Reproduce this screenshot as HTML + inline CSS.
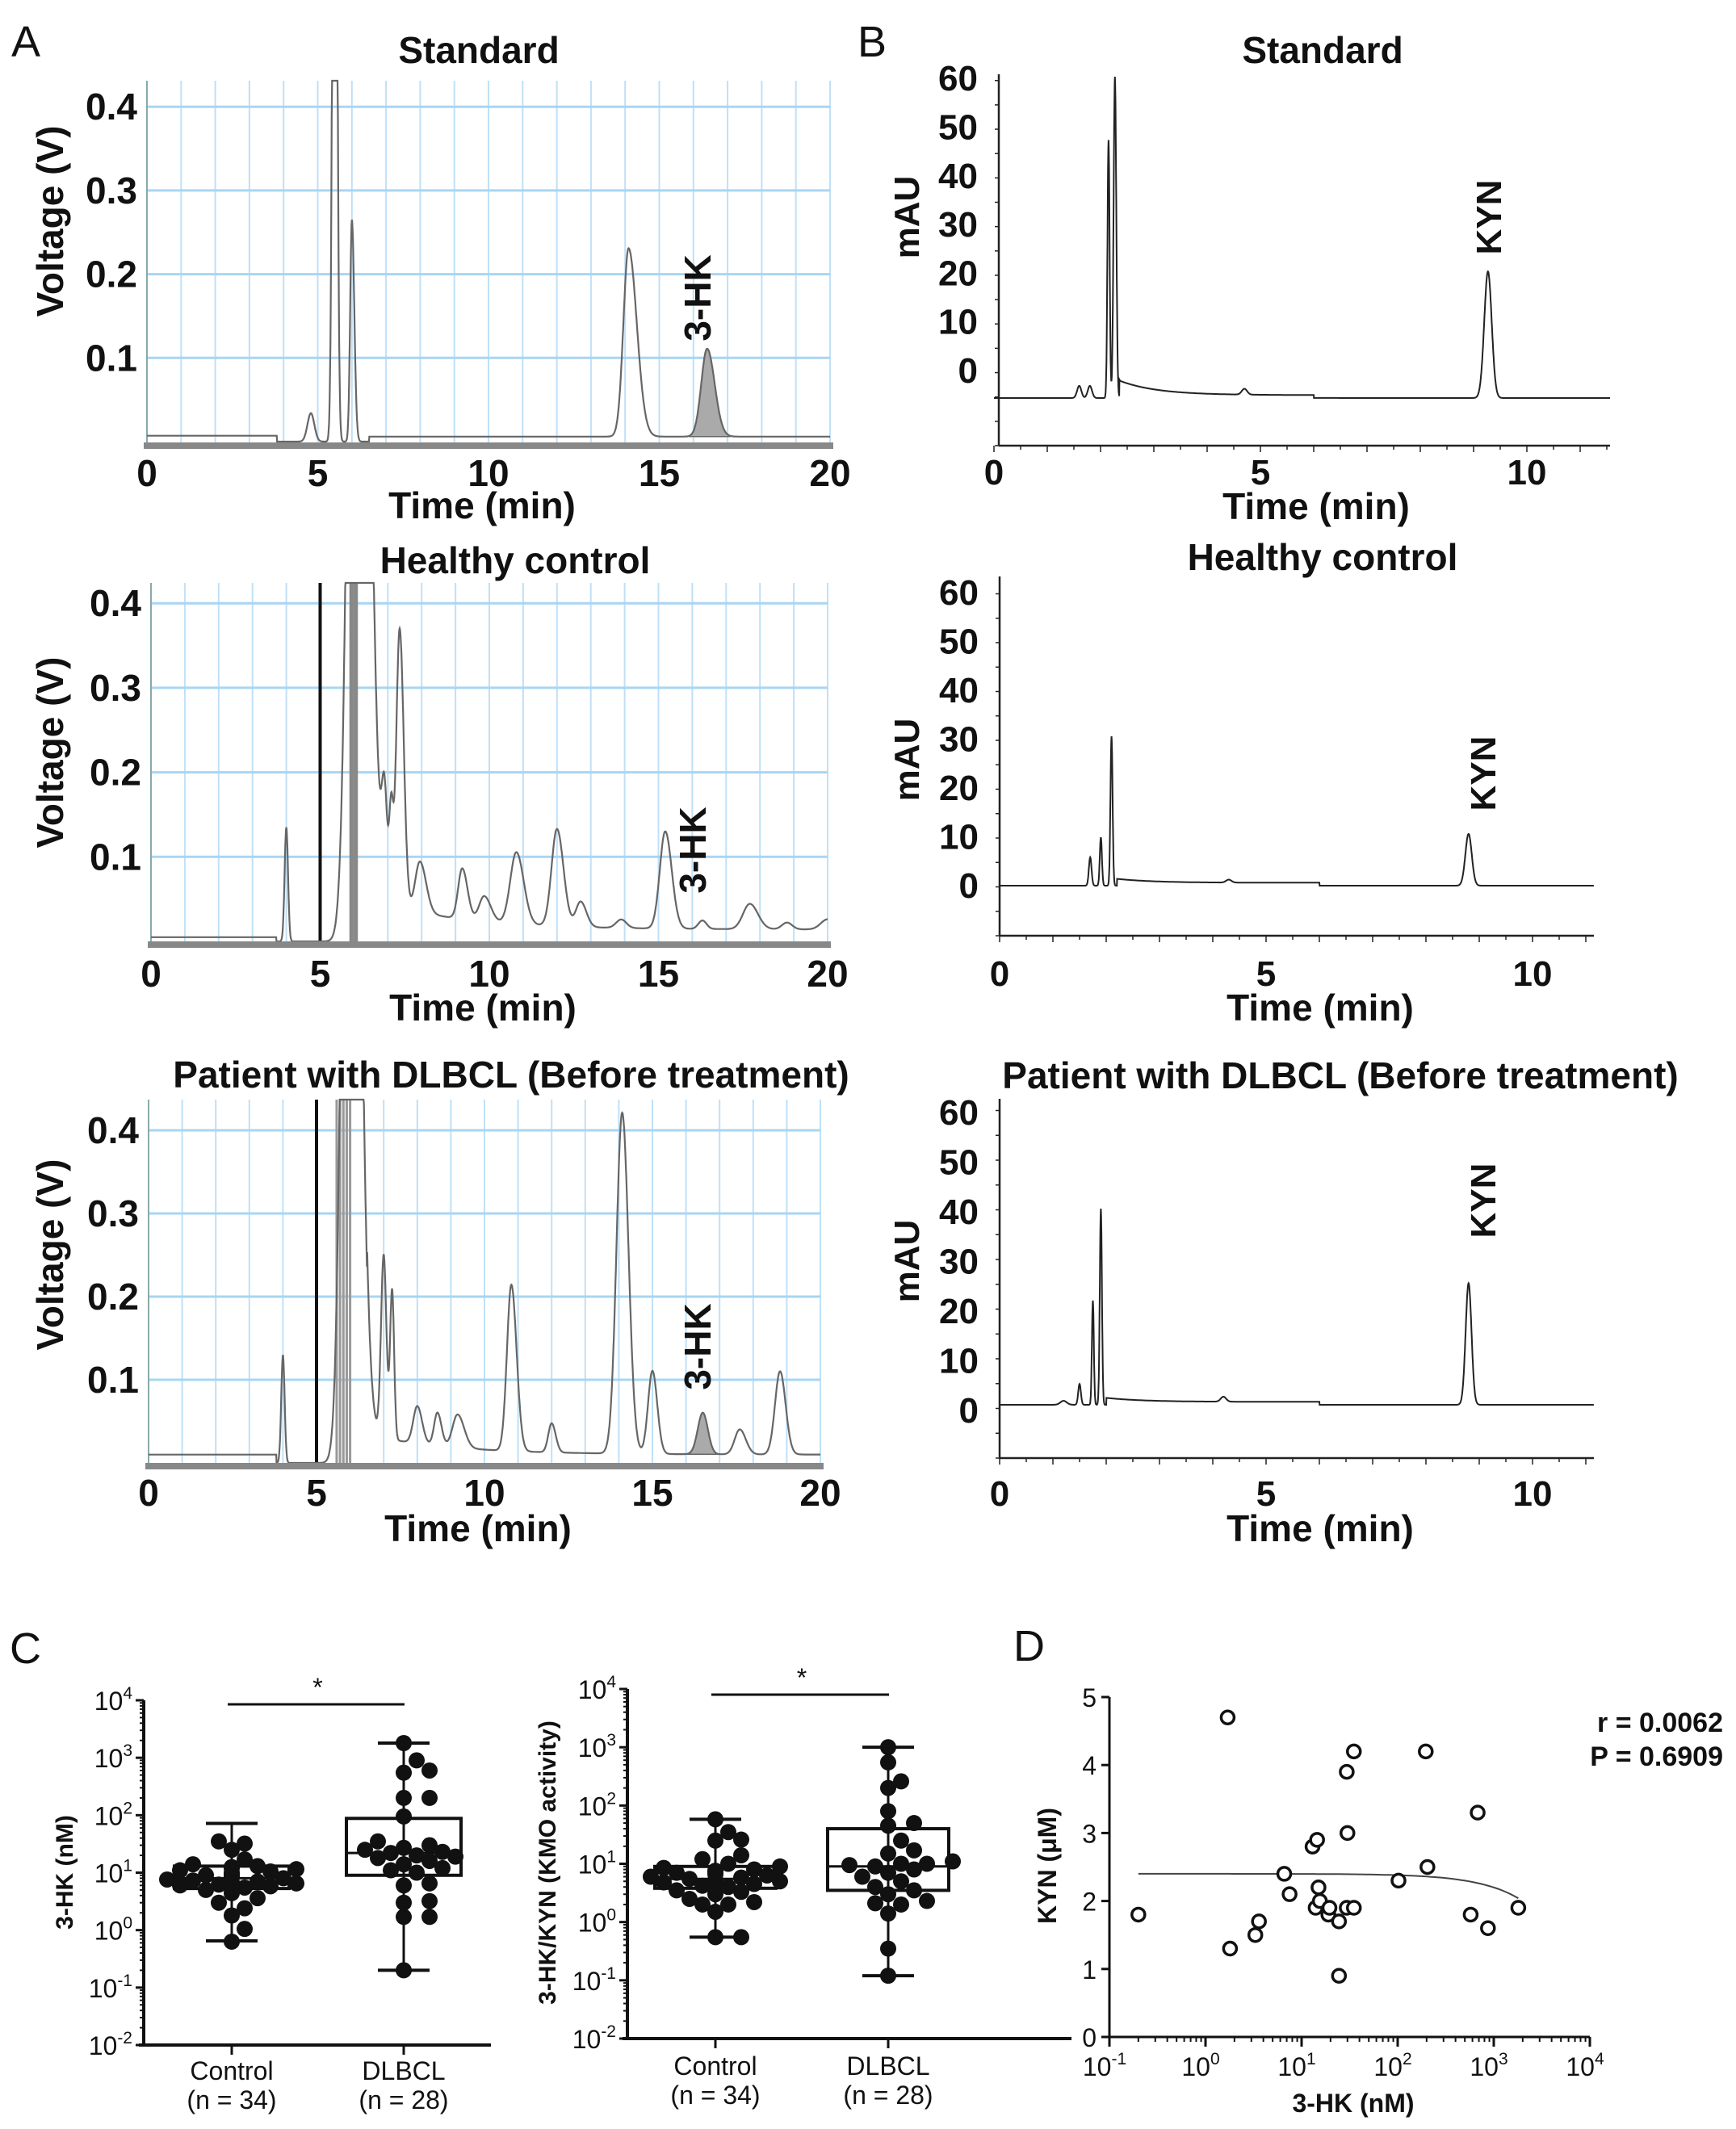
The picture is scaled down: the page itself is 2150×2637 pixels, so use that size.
<!DOCTYPE html>
<html><head><meta charset="utf-8"><title>HPLC chromatograms and 3-HK analysis</title>
<style>
html,body{margin:0;padding:0;background:#fff;}
svg{display:block;font-family:"Liberation Sans",Arial,sans-serif;}
</style></head>
<body>
<svg id="fig" width="2150" height="2637" viewBox="0 0 2150 2637" xmlns="http://www.w3.org/2000/svg">
<rect width="2150" height="2637" fill="#fff"/>
<g font-size="54" fill="#111">
<text x="14" y="70">A</text>
<text x="1062" y="70">B</text>
<text x="12" y="2060">C</text>
<text x="1255" y="2057">D</text>
</g>
<g id="layer"></g>
</svg>
<script>
// ---------- Panel A data (time min, height V, sigma min, tail factor) ----------
const a1Times=[4.8,5.5,6.0,14.1,16.4];
const a1Heights=[0.034,1.2,0.265,0.225,0.105];
const a1Widths=[0.1,0.06,0.05,0.15,0.17];
const a1Tails=[1,1,1.4,1.6,1.3];
const a1Filled=[4];
const a1Markers=[];
const a1MarkerColors=[];

const a2Times=[4.0,6.1,6.9,7.1,7.35,7.95,9.2,9.85,10.8,12.0,12.7,13.9,15.2,16.3,17.7,18.8,20.0];
const a2Heights=[0.135,1.6,0.12,0.11,0.33,0.06,0.06,0.03,0.085,0.115,0.03,0.01,0.115,0.01,0.03,0.008,0.012];
const a2Widths=[0.05,0.22,0.08,0.06,0.1,0.14,0.12,0.15,0.18,0.16,0.14,0.15,0.16,0.12,0.2,0.15,0.2];
const a2Tails=[1,1.3,1,1,1.2,1.3,1.3,1.3,1.2,1.2,1.2,1,1.2,1,1.2,1,1];
const a2Filled=[];
const a2Markers=[5.0,5.9,5.95,6.02,6.08];
const a2MarkerColors=["#111","#888","#888","#888","#888"];

const a3Times=[4.0,6.0,7.0,7.25,8.0,8.6,9.2,10.8,12.0,14.1,15.0,16.5,17.6,18.8];
const a3Heights=[0.13,1.5,0.22,0.18,0.045,0.04,0.04,0.2,0.035,0.41,0.1,0.05,0.03,0.1];
const a3Widths=[0.05,0.2,0.08,0.06,0.12,0.1,0.15,0.13,0.1,0.17,0.13,0.15,0.15,0.15];
const a3Tails=[1,1.3,1,1,1.2,1.2,1.3,1.2,1.2,1.1,1.1,1,1.2,1.1];
const a3Filled=[11];
const a3Markers=[5.0,5.6,5.7,5.8,5.9,6.0];
const a3MarkerColors=["#111","#999","#999","#999","#999","#999"];
const aYTicks=[0.1,0.2,0.3,0.4];
const aXTicks=[0,5,10,15,20];

// ---------- Panel B data (time min, height mAU, sigma) ----------
const b1Times=[1.6,1.8,2.15,2.27,4.7,9.27];
const b1Heights=[2.5,2.5,53,66,1.2,26];
const b1Widths=[0.04,0.04,0.02,0.025,0.05,0.07];
const b2Times=[1.7,1.9,2.1,4.3,8.8];
const b2Heights=[5.8,9.9,30.6,0.6,10.6];
const b2Widths=[0.025,0.02,0.02,0.05,0.06];
const b3Times=[1.2,1.5,1.75,1.9,4.2,8.8];
const b3Heights=[0.8,4.2,21,39.5,1,24.5];
const b3Widths=[0.06,0.025,0.018,0.02,0.05,0.055];
const bYTicks=[0,10,20,30,40,50,60];
const bXTicks=[0,5,10];

// ---------- Panel C data ----------
const cCategories=["Control","DLBCL"];
const cCounts=["(n = 34)","(n = 28)"];
const hkControl=[0.63,1.05,1.8,2.4,3.0,3.6,4.4,5,5.5,5.8,6,6.2,6.5,6.8,7,7.3,7.6,8,8.3,8.7,9,9.5,10,10.5,11,11.5,12,12.5,13,14,17,25,32,35];
const hkDlbcl=[0.2,1.7,1.7,3,3.2,6,6.5,10,11,12,14,16,18,19,20,22,23,25,27,30,35,95,200,200,550,600,900,1800];
const hkBoxControl=[0.65,5.3,8,13,72];   // min, q1, median, q3, max
const hkBoxDlbcl=[0.2,9,22,88,1800];
const kmoControl=[0.55,0.55,1.5,2,2,2.2,2.5,3,3.3,3.5,4,4.2,4.5,4.8,5,5.2,5.5,5.8,6,6.3,6.6,7,7.3,7.6,8,8.5,9,10,12,14,25,26,35,58];
const kmoDlbcl=[0.12,0.35,1.4,2,2.1,2.3,3,3.5,4,5,6,7,8,9,9.5,10,10,11,15,17,25,45,50,80,200,260,550,1000];
const kmoBoxControl=[0.55,3.8,5.5,9,58];
const kmoBoxDlbcl=[0.12,3.5,9,40,1000];
const cDecades=[-2,-1,0,1,2,3,4];

// ---------- Panel D data ----------
const dHK=[0.2,1.7,1.8,3.3,3.6,6.6,7.5,13,14.5,14,15,15.5,19,19.5,24.5,24.5,29.5,30,29.5,35,35,102,196,204,575,680,870,1800];
const dKYN=[1.8,4.7,1.3,1.5,1.7,2.4,2.1,2.8,2.9,1.9,2.2,2.0,1.8,1.9,1.7,0.9,3.9,3.0,1.9,1.9,4.2,2.3,4.2,2.5,1.8,3.3,1.6,1.9];
const dFit=[2.4,-0.0002];  // intercept, slope (linear fit)
const dYTicks=[0,1,2,3,4,5];
const dXDecades=[-1,0,1,2,3,4];

const NS="http://www.w3.org/2000/svg";
const layer=document.getElementById('layer');
function mk(tag,attrs,parent){const e=document.createElementNS(NS,tag);for(const k in attrs)e.setAttribute(k,attrs[k]);(parent||layer).appendChild(e);return e;}
function txt(x,y,s,size,opts,parent){opts=opts||{};const e=mk('text',{x:x,y:y,'font-size':size,'text-anchor':opts.anchor||'middle','font-weight':opts.bold?'bold':'normal',fill:'#111'},parent);if(opts.rot)e.setAttribute('transform','rotate(-90 '+x+' '+y+')');e.textContent=s;return e;}
function peakVal(t,c,h,s,tail){const sg=t<c?s:s*tail;return h*Math.exp(-0.5*((t-c)/sg)**2);}

// ---------- Panel A chromatograms ----------
function chromA(cfg){
  const g=mk('g',{});
  
  
  const X=t=>cfg.x0+(t/20)*(cfg.x1-cfg.x0);
  const Y=v=>cfg.zero-v*cfg.ppu;
  for(let m=0;m<=20;m++){const l=mk('line',{x1:X(m),x2:X(m),y1:cfg.top,y2:cfg.bottom,stroke:'#bfe0f7','stroke-width':2},g);
    }
  aYTicks.forEach(v=>{const l=mk('line',{x1:cfg.x0,x2:cfg.x1,y1:Y(v),y2:Y(v),stroke:'#a9d5f3','stroke-width':3},g);
    });
  const ax=mk('line',{x1:cfg.x0,x2:cfg.x0,y1:cfg.top,y2:cfg.bottom,stroke:'#8aa',"stroke-width":2},g);
  
  cfg.markers.forEach((m,i)=>{const l=mk('line',{x1:X(m),x2:X(m),y1:cfg.top,y2:cfg.bottom,stroke:cfg.markerColors[i],'stroke-width':cfg.markerColors[i]==='#111'?4:3},g);
    });
  const bg=t=>t<cfg.bgEnd?cfg.bgPre:(t<6.5?0:(cfg.bgPost+cfg.bgDecay*Math.exp(-(t-7)/2.5)));
  const val=t=>{let v=bg(t);for(let i=0;i<cfg.times.length;i++)v+=peakVal(t,cfg.times[i],cfg.heights[i],cfg.widths[i],cfg.tails[i]);return v;};
  let d='';
  for(let t=0;t<=20.0001;t+=0.01){let y=Math.max(cfg.top,Y(val(t)));d+=(d?'L':'M')+X(t).toFixed(1)+' '+y.toFixed(1);}
  cfg.filled.forEach(i=>{const c=cfg.times[i],s=cfg.widths[i];let p='';
    for(let t=c-3*s;t<=c+3*s*cfg.tails[i];t+=0.01){p+=(p?'L':'M')+X(t).toFixed(1)+' '+Y(val(t)).toFixed(1);}
    p+='L'+X(c+3*s*cfg.tails[i]).toFixed(1)+' '+Y(bg(c)).toFixed(1)+'L'+X(c-3*s).toFixed(1)+' '+Y(bg(c)).toFixed(1)+'Z';
    const f=mk('path',{d:p,fill:'#aaa',stroke:'#666','stroke-width':1.5},g);
    });
  const tr=mk('path',{d:d,fill:'none',stroke:'#666','stroke-width':2.2},g);
  
  const bb=mk('rect',{x:cfg.x0-4,y:cfg.bottom-6,width:cfg.x1-cfg.x0+8,height:8,fill:'#888'},g);
  
  aYTicks.forEach(v=>{const t=txt(cfg.x0-12,Y(v)+16,v.toFixed(1),46,{anchor:'end',bold:true},g);});
  aXTicks.forEach(v=>{const t=txt(X(v),cfg.tickY,String(v),46,{bold:true},g);});
  let t1=txt((cfg.x0+cfg.x1)/2-8,cfg.timeY,'Time (min)',46,{bold:true},g);
  let t2=txt(78,cfg.ylabY,'Voltage (V)',46,{bold:true,rot:true},g);
  let t3=txt(cfg.titleX,cfg.titleY,cfg.title,46,{bold:true},g);
  let t4=txt(cfg.hkX,cfg.hkY,'3-HK',46,{bold:true,rot:true},g);
}
chromA({name:'chromatogram-a-standard',x0:182,x1:1028,zero:547,ppu:1037,top:100,bottom:554,times:a1Times,heights:a1Heights,widths:a1Widths,tails:a1Tails,filled:a1Filled,markers:a1Markers,markerColors:a1MarkerColors,bgPre:0.007,bgEnd:3.8,bgPost:0.006,bgDecay:0,tickY:602,timeY:642,ylabY:274,title:'Standard',titleX:593,titleY:78,hkX:880,hkY:369});
chromA({name:'chromatogram-a-healthy',x0:187,x1:1025,zero:1166,ppu:1047,top:722,bottom:1172,times:a2Times,heights:a2Heights,widths:a2Widths,tails:a2Tails,filled:a2Filled,markers:a2Markers,markerColors:a2MarkerColors,bgPre:0.005,bgEnd:3.7,bgPost:0.014,bgDecay:0.03,tickY:1222,timeY:1264,ylabY:932,title:'Healthy control',titleX:638,titleY:710,hkX:874,hkY:1053});
chromA({name:'chromatogram-a-patient',x0:184,x1:1016,zero:1812,ppu:1030,top:1362,bottom:1818,times:a3Times,heights:a3Heights,widths:a3Widths,tails:a3Tails,filled:a3Filled,markers:a3Markers,markerColors:a3MarkerColors,bgPre:0.01,bgEnd:3.8,bgPost:0.01,bgDecay:0.02,tickY:1865,timeY:1909,ylabY:1554,title:'Patient with DLBCL (Before treatment)',titleX:633,titleY:1347,hkX:880,hkY:1668});

// ---------- Panel B chromatograms ----------
function chromB(cfg){
  const g=mk('g',{});
  
  
  const X=t=>cfg.x0+t*66;
  const Y=v=>cfg.zero-v*cfg.ppu;
  const ya=mk('line',{x1:cfg.ax,x2:cfg.ax,y1:cfg.top,y2:cfg.bottom,stroke:'#222','stroke-width':2.5},g);
  
  const xa=mk('line',{x1:cfg.ax,x2:cfg.xend,y1:cfg.bottom,y2:cfg.bottom,stroke:'#222','stroke-width':2.5},g);
  
  for(let m=0;X(m)<=cfg.xend;m+=0.5){const l=mk('line',{x1:X(m),x2:X(m),y1:cfg.bottom,y2:cfg.bottom+(m%1===0?8:5),stroke:'#222','stroke-width':1.5},g);}
  for(let y=cfg.bottom;y>=cfg.top;y-=cfg.ppu*5){const l=mk('line',{x1:cfg.ax-5,x2:cfg.ax,y1:y,y2:y,stroke:'#222','stroke-width':1.5},g);}
  const val=t=>{let v=(t>cfg.tailStart?cfg.tailH*Math.exp(-(t-cfg.tailStart)/0.7):0)+(t>cfg.tailStart&&t<6?0.6:0);
    for(let i=0;i<cfg.times.length;i++)v+=peakVal(t,cfg.times[i],cfg.heights[i],cfg.widths[i],1);return v;};
  let d='';
  for(let t=0;X(t)<=cfg.xend;t+=0.005){let y=Math.max(cfg.top,Y(val(t)));d+=(d?'L':'M')+X(t).toFixed(1)+' '+y.toFixed(1);}
  const tr=mk('path',{d:d,fill:'none',stroke:'#222','stroke-width':2},g);
  
  bYTicks.forEach(v=>{const t=txt(cfg.ax-26,cfg.labZero-v*cfg.labStep+15,String(v),44,{anchor:'end',bold:true},g);});
  bXTicks.forEach(v=>{const t=txt(X(v),cfg.tickY,String(v),44,{bold:true},g);});
  let t1=txt(cfg.timeX,cfg.timeY,'Time (min)',46,{bold:true},g);
  let t2=txt(1138,cfg.ylabY,'mAU',44,{bold:true,rot:true},g);
  let t3=txt(cfg.titleX,cfg.titleY,cfg.title,46,{bold:true},g);
  let t4=txt(cfg.kX,cfg.kY,'KYN',44,{bold:true,rot:true},g);
}
chromB({name:'chromatogram-b-standard',x0:1231,ax:1237,xend:1994,top:92,bottom:552,zero:493,ppu:6.03,labZero:459,labStep:6.03,times:b1Times,heights:b1Heights,widths:b1Widths,tailH:3,tailStart:2.35,tickY:600,timeX:1630,timeY:643,ylabY:269,title:'Standard',titleX:1638,titleY:78,kX:1859,kY:269});
chromB({name:'chromatogram-b-healthy',x0:1238,ax:1238,xend:1974,top:714,bottom:1159,zero:1097,ppu:6.05,labZero:1097,labStep:6.05,times:b2Times,heights:b2Heights,widths:b2Widths,tailH:0.8,tailStart:2.2,tickY:1221,timeX:1635,timeY:1264,ylabY:941,title:'Healthy control',titleX:1638,titleY:706,kX:1852,kY:958});
chromB({name:'chromatogram-b-patient',x0:1238,ax:1238,xend:1974,top:1361,bottom:1806,zero:1740,ppu:6.15,labZero:1747,labStep:6.15,times:b3Times,heights:b3Heights,widths:b3Widths,tailH:0.8,tailStart:2.0,tickY:1865,timeX:1635,timeY:1909,ylabY:1562,title:'Patient with DLBCL (Before treatment)',titleX:1660,titleY:1348,kX:1852,kY:1487});

// ---------- Panel C box plots ----------
function boxPlot(cfg){
  const g=mk('g',{});
  
  
  const dec=(cfg.yBot-cfg.yTop)/6;
  const Y=v=>cfg.yBot-(Math.log10(v)+2)*dec;
  const ya=mk('line',{x1:cfg.ax,x2:cfg.ax,y1:cfg.yTop,y2:cfg.yBot,stroke:'#111','stroke-width':4},g);
  
  const xa=mk('line',{x1:cfg.ax-6,x2:cfg.xEnd,y1:cfg.yBot,y2:cfg.yBot,stroke:'#111','stroke-width':4},g);
  
  cDecades.forEach((p,i)=>{const y=cfg.yBot-i*dec;
    const l=mk('line',{x1:cfg.ax-10,x2:cfg.ax,y1:y,y2:y,stroke:'#111','stroke-width':3},g);
    if(i<6)for(let k=2;k<10;k++){const yy=y-Math.log10(k)*dec;const m=mk('line',{x1:cfg.ax-5,x2:cfg.ax,y1:yy,y2:yy,stroke:'#111','stroke-width':2},g);}
    const t=mk('text',{x:cfg.ax-14,y:y+12,'font-size':32,'text-anchor':'end',fill:'#111'},g);
    
    t.textContent='10';const s=mk('tspan',{dy:-14,'font-size':21},t);s.textContent=String(p);});
  const groups=[[cfg.d1,cfg.b1],[cfg.d2,cfg.b2]];
  groups.forEach((gr,gi)=>{const cx=cfg.cx[gi],hw=cfg.hw,b=gr[1];
    const tk=mk('line',{x1:cx,x2:cx,y1:cfg.yBot,y2:cfg.yBot+12,stroke:'#111','stroke-width':3},g);
    const w=mk('line',{x1:cx,x2:cx,y1:Y(b[0]),y2:Y(b[4]),stroke:'#111','stroke-width':3},g);
    [b[0],b[4]].forEach(v=>{const c=mk('line',{x1:cx-32,x2:cx+32,y1:Y(v),y2:Y(v),stroke:'#111','stroke-width':4},g);});
    const r=mk('rect',{x:cx-hw,y:Y(b[3]),width:2*hw,height:Y(b[1])-Y(b[3]),fill:'none',stroke:'#111','stroke-width':4},g);
    const md=mk('line',{x1:cx-hw,x2:cx+hw,y1:Y(b[2]),y2:Y(b[2]),stroke:'#111','stroke-width':3},g);
    const placed=[];const R=10;
    gr[0].slice().sort((a,b)=>a-b).forEach(v=>{const y=Y(v);let off=0;
      for(let k=0;k<30;k++){const o=(k%2?1:-1)*Math.ceil(k/2)*R*1.6;if(Math.abs(o)>hw+10)continue;
        if(placed.every(p=>(p[0]-(cx+o))**2+(p[1]-y)**2>=(R*1.7)**2)){off=o;break;}}
      placed.push([cx+off,y]);
      const c=mk('circle',{cx:cx+off,cy:y,r:R,fill:'#111'},g);});
    const cl=txt(cx,cfg.labY,cCategories[gi],32,{},g);
    const nl=txt(cx,cfg.labY+36,cCounts[gi],32,{},g);
  });
  const sb=mk('line',{x1:cfg.cx[0]-5,x2:cfg.cx[1]+1,y1:cfg.sigY,y2:cfg.sigY,stroke:'#111','stroke-width':3},g);
  const st=txt((cfg.cx[0]+cfg.cx[1])/2,cfg.sigY-10,'*',32,{},g);
  const yl=txt(cfg.ylX,cfg.ylY,cfg.ylabel,30,{bold:true,rot:true},g);
}
boxPlot({name:'boxplot-3hk',ax:178,xEnd:608,yTop:2106,yBot:2533,cx:[287,500],hw:71,d1:hkControl,d2:hkDlbcl,b1:hkBoxControl,b2:hkBoxDlbcl,sigY:2111,labY:2576,ylX:90,ylY:2319,ylabel:'3-HK (nM)'});
boxPlot({name:'boxplot-kmo-activity',ax:777,xEnd:1327,yTop:2092,yBot:2525,cx:[886,1100],hw:75,d1:kmoControl,d2:kmoDlbcl,b1:kmoBoxControl,b2:kmoBoxDlbcl,sigY:2099,labY:2570,ylX:688,ylY:2307,ylabel:'3-HK/KYN (KMO activity)'});

// ---------- Panel D scatter ----------
(function(){
  const g=mk('g',{});
  
  
  const x0=1374,x1=1969,y0=2523,y5=2102;
  const X=v=>x0+(Math.log10(v)+1)*(x1-x0)/5;
  const Y=v=>y0-v*(y0-y5)/5;
  const ya=mk('line',{x1:x0,x2:x0,y1:y5,y2:y0,stroke:'#111','stroke-width':3},g);
  const xa=mk('line',{x1:x0,x2:x1,y1:y0,y2:y0,stroke:'#111','stroke-width':3},g);
  dYTicks.forEach(v=>{const l=mk('line',{x1:x0-10,x2:x0,y1:Y(v),y2:Y(v),stroke:'#111','stroke-width':3},g);
    const t=txt(x0-16,Y(v)+12,String(v),32,{anchor:'end'},g);});
  dXDecades.forEach((p,i)=>{const x=X(Math.pow(10,p));
    const l=mk('line',{x1:x,x2:x,y1:y0,y2:y0+12,stroke:'#111','stroke-width':3},g);
    if(i<5)for(let k=2;k<10;k++){const xx=X(k*Math.pow(10,p));const m=mk('line',{x1:xx,x2:xx,y1:y0,y2:y0+6,stroke:'#111','stroke-width':2},g);}
    const t=mk('text',{x:x-6,y:y0+48,'font-size':32,'text-anchor':'middle',fill:'#111'},g);
    t.textContent='10';const s=mk('tspan',{dy:-14,'font-size':21},t);s.textContent=String(p);});
  let d='';const xmin=Math.min(...dHK),xmax=Math.max(...dHK);
  for(let k=0;k<=100;k++){const v=Math.pow(10,Math.log10(xmin)+k/100*(Math.log10(xmax)-Math.log10(xmin)));d+=(d?'L':'M')+X(v).toFixed(1)+' '+Y(dFit[0]+dFit[1]*v).toFixed(1);}
  const f=mk('path',{d:d,fill:'none',stroke:'#444','stroke-width':2},g);
  dHK.forEach((v,i)=>{const c=mk('circle',{cx:X(v),cy:Y(dKYN[i]),r:8,fill:'#fff',stroke:'#111','stroke-width':3.5},g);});
  const xl=txt(1676,2616,'3-HK (nM)',32,{bold:true},g);
  const yl=txt(1308,2311,'KYN (\u03BCM)',32,{bold:true,rot:true},g);
  const r1=txt(2134,2145,'r = 0.0062',34,{anchor:'end',bold:true},g);
  const r2=txt(2134,2187,'P = 0.6909',34,{anchor:'end',bold:true},g);
})();
</script>
</body></html>
